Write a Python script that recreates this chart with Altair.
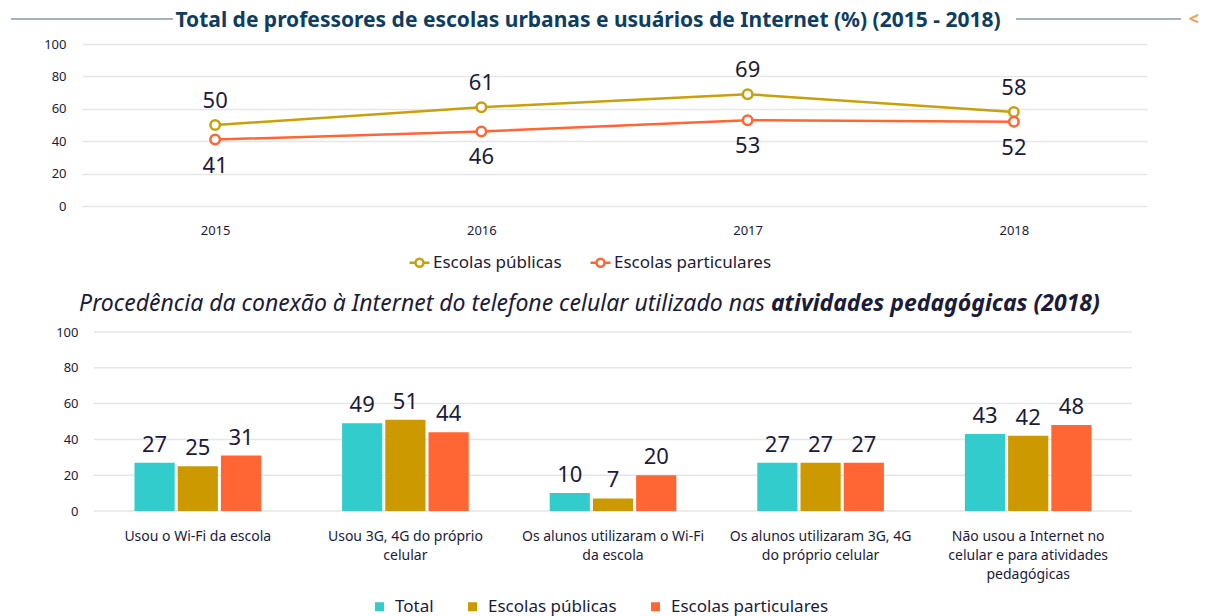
import altair as alt
import pandas as pd

# ---------------- data ----------------
years = ["2015", "2016", "2017", "2018"]
line_series = ["Escolas públicas", "Escolas particulares"]
publicas_line = [50, 61, 69, 58]
particulares_line = [41, 46, 53, 52]

categories = [
    "Usou o Wi-Fi da escola",
    "Usou 3G, 4G do próprio\ncelular",
    "Os alunos utilizaram o Wi-Fi\nda escola",
    "Os alunos utilizaram 3G, 4G\ndo próprio celular",
    "Não usou a Internet no\ncelular e para atividades\npedagógicas",
]
bar_series = ["Total", "Escolas públicas", "Escolas particulares"]
total_vals = [27, 49, 10, 27, 43]
publicas_vals = [25, 51, 7, 27, 42]
particulares_vals = [31, 44, 20, 27, 48]
y_ticks = [0, 20, 40, 60, 80, 100]

title_top = "Total de professores de escolas urbanas e usuários de Internet (%) (2015 - 2018)"
title_bottom_normal = "Procedência da conexão à Internet do telefone celular utilizado nas"
title_bottom_bold = "atividades pedagógicas (2018)"

# ---------------- style ----------------
FONT = "Noto Sans"
TEXT = "#1b1b3a"
TITLE_BLUE = "#0f3d5f"
GOLD = "#c9a00a"
GOLD_BAR = "#cc9900"
ORANGE = "#ff6633"
TEAL = "#33cccc"
GRID = "#e6e6e6"

line_rows = []
for s, vals in zip(line_series, [publicas_line, particulares_line]):
    for y, v in zip(years, vals):
        line_rows.append({"year": y, "series": s, "value": v})
line_df = pd.DataFrame(line_rows)

bar_rows = []
for s, vals in zip(bar_series, [total_vals, publicas_vals, particulares_vals]):
    for c, v in zip(categories, vals):
        bar_rows.append({"category": c, "series": s, "value": v})
bar_df = pd.DataFrame(bar_rows)
grid_df = pd.DataFrame({"value": y_ticks})
one = pd.DataFrame({"k": [0]})

# ---------------- top chart ----------------
x_top = alt.X(
    "year:O", sort=years, scale=alt.Scale(type="point", padding=0.5),
    axis=alt.Axis(title=None, labelFontSize=13, labelColor=TEXT, labelFont=FONT,
                  labelPadding=18, domain=False, ticks=False, labelAngle=0, grid=False),
)
y_top = alt.Y(
    "value:Q", scale=alt.Scale(domain=[0, 100]),
    axis=alt.Axis(title=None, values=y_ticks, labelFontSize=13, labelColor=TEXT, labelFont=FONT,
                  labelPadding=16, domain=False, ticks=False, grid=True,
                  gridColor=GRID, gridWidth=1.5),
)
legend_path = "M-1,0H-0.4M0.4,0H1M0.4,0A0.4,0.4,0,1,1,-0.4,0A0.4,0.4,0,1,1,0.4,0"
color_top = alt.Color(
    "series:N", sort=line_series,
    scale=alt.Scale(domain=line_series, range=[GOLD, ORANGE]),
    legend=alt.Legend(
        title=None, orient="none", legendX=326, legendY=207, direction="horizontal",
        labelFontSize=17, labelFont=FONT, labelColor=TEXT, symbolType=legend_path,
        symbolSize=400, symbolStrokeWidth=2.5, symbolFillColor="white",
        labelOffset=2, columnPadding=23,
    ),
)

base_top = alt.Chart(line_df)
lines = base_top.mark_line(strokeWidth=2.5).encode(x=x_top, y=y_top, color=color_top)
points = base_top.mark_point(filled=False, fill="white", size=90, strokeWidth=2.5, opacity=1).encode(
    x=x_top, y=y_top, color=color_top)
lab_pub = base_top.transform_filter(alt.datum.series == line_series[0]).mark_text(
    dy=-24, fontSize=22, font=FONT, color=TEXT).encode(x=x_top, y=y_top, text="value:Q")
lab_par = base_top.transform_filter(alt.datum.series == line_series[1]).mark_text(
    dy=26, fontSize=22, font=FONT, color=TEXT).encode(x=x_top, y=y_top, text="value:Q")

t_top = alt.Chart(one).mark_text(
    text=title_top, fontSize=21, fontWeight="bold", font=FONT, color=TITLE_BLUE,
    align="center", baseline="middle").encode(x=alt.value(506), y=alt.value(-23))
rule_l = alt.Chart(one).mark_rule(color="#8497b0", strokeWidth=1.5).encode(
    x=alt.value(-71), x2=alt.value(91), y=alt.value(-25))
rule_r = alt.Chart(one).mark_rule(color="#8497b0", strokeWidth=1.5).encode(
    x=alt.value(934), x2=alt.value(1099), y=alt.value(-25))
chevron = alt.Chart(one).mark_text(
    text="<", fontSize=18, fontWeight="bold", font=FONT, color="#f0a04b",
    align="center", baseline="middle").encode(x=alt.value(1112), y=alt.value(-24))

top = alt.layer(rule_l, rule_r, t_top, chevron, lines, points, lab_pub, lab_par).properties(
    width=1065, height=162)

# ---------------- bottom chart ----------------
x_bot = alt.X(
    "category:N", sort=categories,
    scale=alt.Scale(range=[12, 1050], paddingInner=0.39, paddingOuter=0.195),
    axis=alt.Axis(title=None, labelExpr="split(datum.label, '\\n')", labelFontSize=14,
                  labelColor=TEXT, labelFont=FONT, labelLineHeight=19, labelPadding=18,
                  labelAngle=0, domain=False, ticks=False, grid=False, labelLimit=400),
)
xoff_bot = alt.XOffset("series:N", sort=bar_series, scale=alt.Scale(paddingInner=0.07))
y_axis_bot = alt.Axis(title=None, values=y_ticks, labelFontSize=13, labelColor=TEXT,
                      labelFont=FONT, labelPadding=4, domain=False, ticks=False, grid=False)
y_bot = alt.Y("value:Q", scale=alt.Scale(domain=[0, 100]), axis=y_axis_bot)
color_bot = alt.Color(
    "series:N", sort=bar_series,
    scale=alt.Scale(domain=bar_series, range=[TEAL, GOLD_BAR, ORANGE]),
    legend=alt.Legend(
        title=None, orient="none", legendX=289, legendY=266, direction="horizontal",
        labelFontSize=17, labelFont=FONT, labelColor=TEXT, symbolType="square",
        symbolSize=81, labelOffset=7, columnPadding=30,
    ),
)

grid_bot = alt.Chart(grid_df).mark_rule(color=GRID, strokeWidth=1.5).encode(
    y=y_bot, x=alt.value(12), x2=alt.value(1050))
bars = alt.Chart(bar_df).mark_bar().encode(x=x_bot, xOffset=xoff_bot, y=y_bot, color=color_bot)
bar_labels = alt.Chart(bar_df).mark_text(
    baseline="bottom", dy=-6, fontSize=22, font=FONT, color=TEXT).encode(
    x=x_bot, xOffset=xoff_bot, y=y_bot, text="value:Q")

t_b1 = alt.Chart(one).mark_text(
    text=title_bottom_normal, fontSize=23, fontStyle="italic", font=FONT, color=TEXT,
    align="right", baseline="middle").encode(x=alt.value(683), y=alt.value(-28))
t_b2 = alt.Chart(one).mark_text(
    text=title_bottom_bold, fontSize=23, fontStyle="italic", fontWeight="bold", font=FONT,
    color=TEXT, align="left", baseline="middle").encode(x=alt.value(689), y=alt.value(-28))

bottom = alt.layer(grid_bot, bars, bar_labels, t_b1, t_b2).properties(width=1065, height=179)

chart = alt.vconcat(top, bottom, spacing=21).resolve_scale(color="independent").properties(
    padding={"left": 2, "top": 2, "right": 0, "bottom": 30}
).configure(font=FONT).configure_view(strokeWidth=0)

chart.save("out.html", embed_options={"renderer": "svg", "actions": False})
